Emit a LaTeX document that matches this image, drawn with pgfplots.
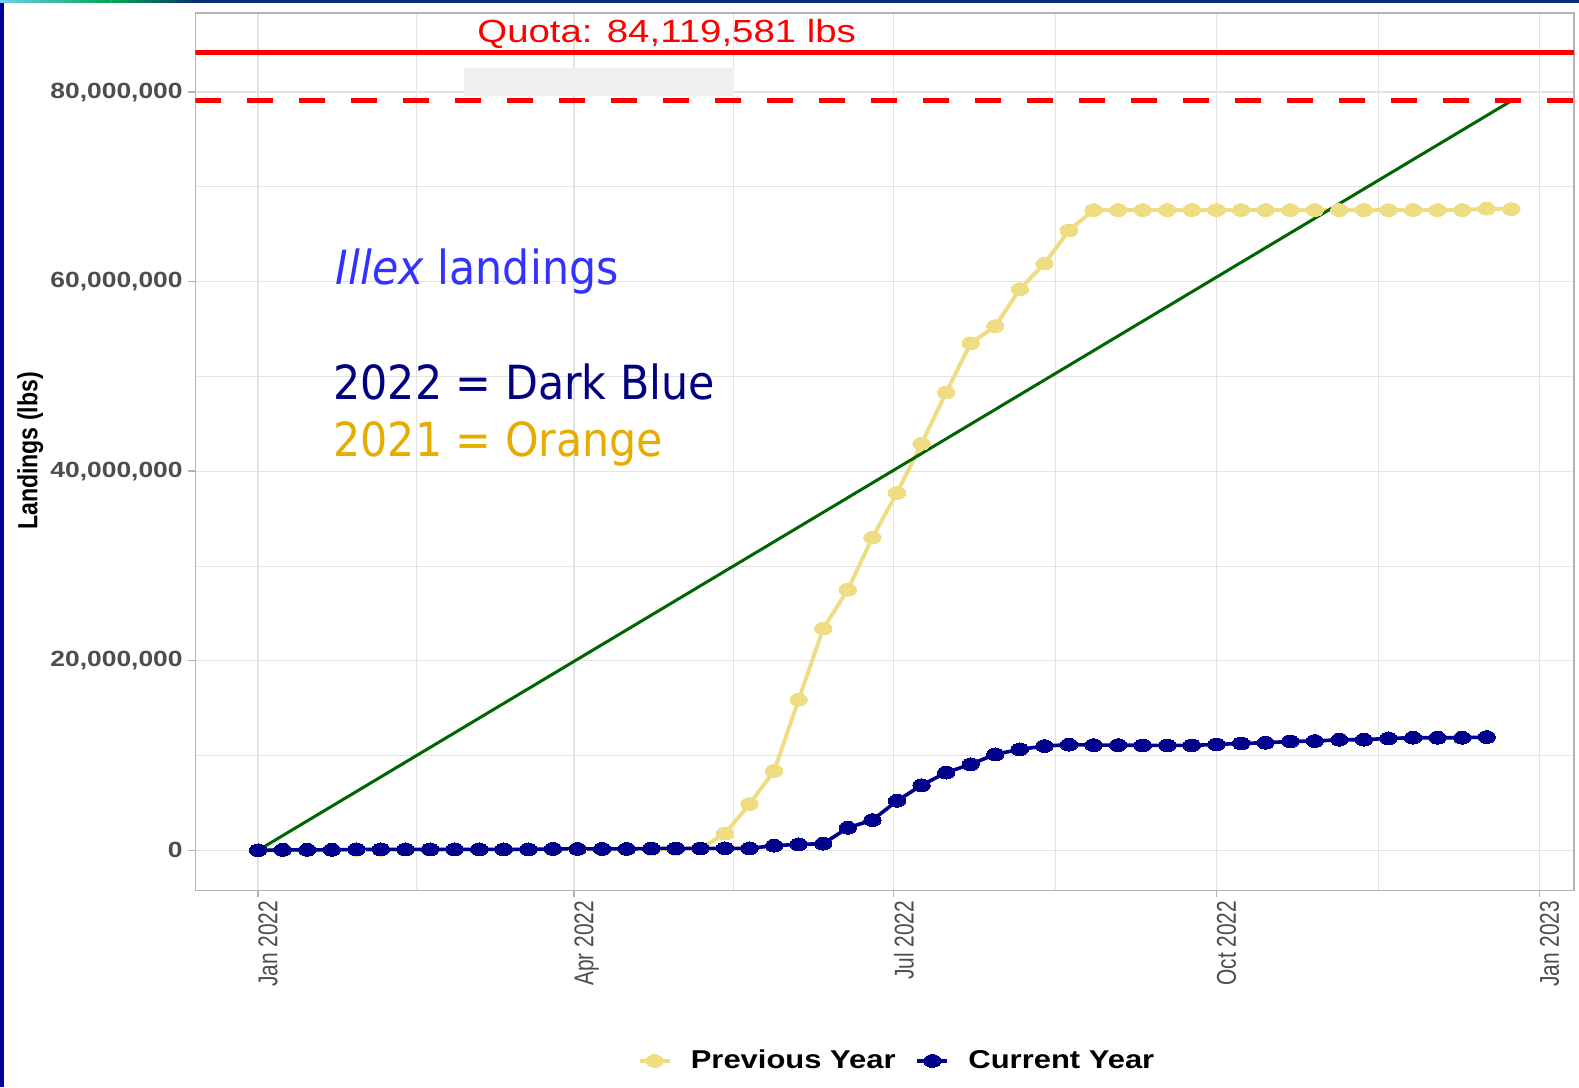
\documentclass[border=0pt]{standalone}
\usepackage{pgfplots}
\pgfplotsset{compat=1.18}
\usepackage{fontspec}
\setmainfont{Liberation Sans}
\newfontfamily\slidefont[FakeStretch=0.91]{DejaVu Sans}
\definecolor{gold}{HTML}{EEDD82}
\definecolor{dblue}{HTML}{00008B}
\definecolor{dgreen}{HTML}{006400}
\definecolor{g70}{HTML}{B3B3B3}
\definecolor{g87}{HTML}{E3E3E3}
\definecolor{g30}{HTML}{4D4D4D}
\definecolor{illex}{HTML}{3333FF}
\definecolor{navyt}{HTML}{000080}
\definecolor{orangt}{HTML}{E6AC00}
\definecolor{boxg}{HTML}{F0F0F0}
\definecolor{stripblue}{HTML}{000099}
\definecolor{tb1}{HTML}{6FCFF0}
\definecolor{tb2}{HTML}{00A651}
\definecolor{tb3}{HTML}{0B2F6E}
\newcommand{\xl}[1]{\scalebox{1}[1.3]{#1}}
\newcommand{\yl}[1]{\scalebox{1.2}[1]{#1}}

\pgfplotstableread{
x y
0 0
7 0.02
14 0.03
21 0.04
28 0.05
35 0.06
42 0.07
49 0.08
56 0.08
63 0.09
70 0.09
77 0.1
84 0.1
91 0.1
98 0.1
105 0.11
112 0.11
119 0.12
126 0.2
133 1.77
140 4.88
147 8.38
154 15.9
161 23.4
168 27.5
175 33.0
182 37.7
189 42.9
196 48.3
203 53.5
210 55.3
217 59.2
224 61.9
231 65.4
238 67.55
245 67.55
252 67.55
259 67.55
266 67.55
273 67.55
280 67.55
287 67.55
294 67.55
301 67.55
308 67.55
315 67.55
322 67.55
329 67.55
336 67.55
343 67.55
350 67.7
357 67.65
}\prevyear

\pgfplotstableread{
x y
0 0
7 0.05
14 0.05
21 0.05
28 0.1
35 0.1
42 0.1
49 0.1
56 0.1
63 0.1
70 0.1
77 0.1
84 0.15
91 0.15
98 0.15
105 0.15
112 0.2
119 0.2
126 0.2
133 0.21
140 0.21
147 0.49
154 0.63
161 0.7
168 2.38
175 3.19
182 5.22
189 6.87
196 8.2
203 9.08
210 10.13
217 10.65
224 11.0
231 11.15
238 11.1
245 11.1
252 11.07
259 11.07
266 11.07
273 11.17
280 11.28
287 11.35
294 11.49
301 11.53
308 11.67
315 11.67
322 11.81
329 11.88
336 11.88
343 11.88
350 11.95
}\curyear

\begin{document}
\begin{tikzpicture}
\path[use as bounding box] (-97.7pt,-98.4pt) rectangle (691.8pt,445.1pt);
\fill[stripblue] (-97.7pt,-98.4pt) rectangle (-95.45pt,443.6pt);
\shade[left color=tb1, right color=tb2] (-97.7pt,443.6pt) rectangle (-42pt,445.1pt);
\shade[left color=tb2, right color=tb3] (-42pt,443.6pt) rectangle (0pt,445.1pt);
\fill[tb3] (0pt,443.6pt) rectangle (691.8pt,445.1pt);
\begin{axis}[
  at={(0pt,0pt)}, anchor=south west,
  scale only axis, width=689.3pt, height=438.55pt,
  xmin=-17.85, xmax=374.85, ymin=-4.206, ymax=88.326,
  axis line style={draw=g70, line width=0.7pt},
  tick align=outside, major tick length=3.5pt, minor tick length=0pt,
  tick pos=left,
  every tick/.style={g70, line width=0.7pt},
  xtick={0,90,181,273,365},
  xticklabels={\xl{Jan 2022},\xl{Apr 2022},\xl{Jul 2022},\xl{Oct 2022},\xl{Jan 2023}},
  minor xtick={45,135.5,227,319},
  ytick={0,20,40,60,80},
  yticklabels={{\yl{0}},{\yl{20,000,000}},{\yl{40,000,000}},{\yl{60,000,000}},{\yl{80,000,000}}},
  minor ytick={10,30,50,70},
  grid=both,
  major grid style={draw=g87, line width=0.6pt},
  minor grid style={draw=g87, line width=0.35pt},
  xticklabel style={yshift=-1.6pt, rotate=90, anchor=north east, inner sep=0pt, text=g30, font=\fontsize{10.45pt}{12pt}\selectfont},
  yticklabel style={xshift=-2.7pt, anchor=east, inner sep=0pt, text=g30, font=\fontsize{11pt}{13pt}\selectfont\bfseries},
  legend style={at={(0.3205,-0.1947)}, anchor=west, draw=none, fill=none, inner sep=0pt,
    font=\fontsize{12.9pt}{15pt}\selectfont\bfseries, nodes={inner sep=0pt},
    /tikz/every odd column/.append style={column sep=9.6pt},
    /tikz/every even column/.append style={column sep=10pt}},
  legend columns=-1,
  legend image code/.code={\draw[mark repeat=2,mark phase=2,#1] plot coordinates {(0pt,0pt) (7.5pt,0pt) (15pt,0pt)};},
]
\addplot[gold, line width=2pt, line join=round, mark=*, mark size=3.2pt,
  mark options={solid, fill=gold, draw=gold, line width=0pt, xscale=1.36}] table {\prevyear};
\addlegendentry{\scalebox{1.2}[1]{Previous Year}}
\addplot[dblue, line width=1.8pt, line join=round, mark=*, mark size=3.2pt,
  mark options={solid, fill=dblue, draw=dblue, line width=0pt, xscale=1.36}] table {\curyear};
\addlegendentry{\scalebox{1.2}[1]{Current Year}}
\addplot[dgreen, line width=1.5pt, forget plot] coordinates {(0,0) (357,79.0724)};
\fill[boxg] (axis cs:58.7,79.57) rectangle (axis cs:135.7,82.54);
\addplot[red, line width=2.5pt, forget plot] coordinates {(-17.85,84.119581) (374.85,84.119581)};
\addplot[red, line width=2.5pt, dash pattern=on 13pt off 13pt, forget plot] coordinates {(-17.85,79.0724) (374.85,79.0724)};
\node[red, anchor=base, inner sep=0pt, font=\fontsize{16pt}{19pt}\selectfont] at (axis cs:116.4,85.19) {\scalebox{1.2}[1]{Quota: 84,119,581 lbs}};
\end{axis}
\node[rotate=90, inner sep=0pt, font=\fontsize{11.55pt}{14pt}\selectfont\bfseries] at (-82.6pt,219.6pt) {\scalebox{1}[1.2]{Landings (lbs)}};
\node[anchor=base west, inner sep=0pt, text=illex, font=\slidefont\fontsize{23.5pt}{28pt}\selectfont] at (70pt,302.95pt) {\textit{Illex} landings};
\node[anchor=base west, inner sep=0pt, text=navyt, font=\slidefont\fontsize{23.5pt}{28pt}\selectfont] at (68.8pt,245.1pt) {2022 = Dark Blue};
\node[anchor=base west, inner sep=0pt, text=orangt, font=\slidefont\fontsize{23.5pt}{28pt}\selectfont] at (68.8pt,216.75pt) {2021 = Orange};
\end{tikzpicture}
\end{document}
